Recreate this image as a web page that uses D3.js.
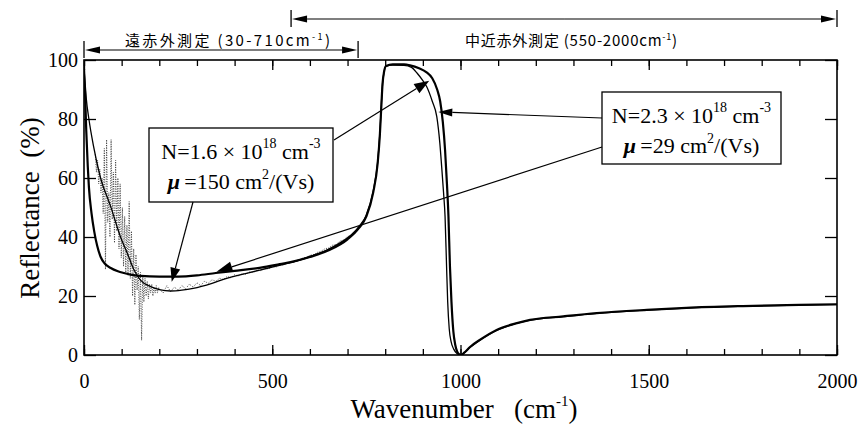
<!DOCTYPE html>
<html><head><meta charset="utf-8">
<script src="https://cdn.jsdelivr.net/npm/d3@7"></script>
<style>body{margin:0;background:#fff} svg{display:block}</style>
</head><body><svg id="c" width="859" height="424"></svg>
<script>
// ---------- data ----------
const xTickLabels = [0, 500, 1000, 1500, 2000];
const xMinorTicks = d3.range(0, 2001, 100);
const yTickLabels = [0, 20, 40, 60, 80, 100];

// fit curve (thick), 0-2000 cm-1  [wavenumber, reflectance %]
const fitThick = [[0,97],[3,88],[6,76],[10,64],[13,57],[20,48],[27,42],[35,37],[44,33.3],[55,31],[71,29.5],[90,28.4],[106,27.8],[130,27.1],[150,26.8],[200,26.6],[250,26.6],[300,27],[350,27.8],[400,28.5],[470,29.6],[520,30.8],[560,31.8],[600,33.2],[650,35.5],[700,39.2],[730,43],[750,47],[768,55],[780,65],[786,75],[790,85],[793,92],[797,96],[802,98],[820,98.5],[850,98.5],[866,98.2],[890,97.2],[910,95.8],[925,93.8],[938,90],[946,86],[953,79],[959,69.5],[964,58],[968,47],[972,30],[976,18],[981,8],[986,3.5],[991,1.2],[996,0.3],[1001,0],[1010,0.8],[1026,2.8],[1050,5],[1096,8.5],[1150,10.8],[1185,11.9],[1273,13.1],[1362,14.2],[1495,15.3],[1600,16],[1750,16.6],[1900,17],[2000,17.2]];

// fit curve (thin), far-IR
const fitThin = [[0,97],[3,92],[6,87],[13,80],[25,71],[44,60],[71,50.3],[97,40],[115,34.5],[133,28.8],[150,25.4],[177,23.2],[200,22.2],[230,21.7],[260,22],[290,22.6],[340,24.3],[379,26],[420,27.3],[467,28.8],[510,30.1],[556,31.6],[600,33.4],[645,35.6],[698,39.5],[720,41.5]];

// measured far-IR data (noisy, dotted)
const farData = [[30,68],[33,62],[36,66],[39,58],[42,63],[45,55],[48,60],[51,48],[54,70],[57,29],[60,73],[63,45],[66,55],[69,40],[72,73],[75,46],[78,62],[81,38],[84,66],[87,42],[90,60],[93,36],[96,58],[99,33],[102,50],[105,30],[108,47],[111,28],[114,44],[117,27],[120,52],[123,26],[126,42],[129,20],[132,36],[135,17],[138,34],[141,22],[144,30],[147,12],[150,28],[153,5],[156,27],[159,18],[162,26],[165,20],[168,25],[171,19],[174,24],[177,21],[180,24],[183,20],[186,23],[189,21],[192,23.5],[195,21],[198,23],[200,22.5],[210,21],[220,23.5],[230,21.5],[240,23],[250,22],[260,23.5],[270,22.5],[280,24],[290,23],[300,24.5],[310,23.5],[320,25],[330,24.3],[340,25.5],[350,25],[360,26],[370,25.6],[380,26.6],[390,26.2],[400,27.2],[410,26.8],[420,27.6],[430,27.4],[440,28.2],[450,28],[460,28.8],[470,28.6],[480,29.4],[490,29.2],[500,30],[510,29.8],[520,30.6],[530,30.5],[540,31.3],[550,31.2],[560,32],[570,32],[580,32.8],[590,33],[600,33.8],[610,34],[620,34.8],[630,35.2],[640,36],[650,36.3],[660,37.2],[670,37.5],[680,38.6],[690,39],[700,40.2],[710,40.5]];

// measured mid-IR data
const midData = [[550,31.4],[600,33.3],[650,35.8],[700,39.6],[730,43.5],[750,47.5],[768,55.5],[780,65.5],[786,75.5],[790,85.5],[793,92],[797,96],[802,97.8],[820,98.3],[850,98.2],[870,97.5],[885,95.5],[900,93],[910,91],[925,86],[937,80.8],[945,72],[950,63.8],[955,55],[959,46.9],[963,30],[966,18],[970,9],[975,4.5],[982,2],[990,0.6],[998,0.1],[1005,0.3],[1026,2.6],[1096,8.3],[1185,11.8],[1273,13],[1362,14.1],[1495,15.2],[1600,15.9],[1750,16.5],[1900,16.9],[2000,17.1]];

// measurement ranges (wavenumber)
const farRange = [0, 728];
const midRange = [550, 2000];
const farRangeLabel = ["遠赤外測定 (30-710cm", "-1", ")"];
const midRangeLabel = ["中近赤外測定 (550-2000cm", "-1", ")"];

// annotation boxes
const box1Lines = [["N=1.6 × 10", "18", " cm", "-3"], ["\u2009=150 cm", "2", "/(Vs)"]];
const box2Lines = [["N=2.3 × 10", "18", " cm", "-3"], ["\u2009=29 cm", "2", "/(Vs)"]];
// arrow tips (data coordinates)
const box1Tips = [[233, 24.8], [917, 93]];
const box2Tips = [[941, 82.4], [352, 28.2]];

// ---------- layout ----------
const svg = d3.select("#c");
const M = {l: 84, t: 60, r: 837, b: 355};
const x = d3.scaleLinear().domain([0, 2000]).range([M.l, M.r]);
const y = d3.scaleLinear().domain([0, 100]).range([M.b, M.t]);
const serif = "'Liberation Serif','Times New Roman',serif";
const jp = "'Noto Sans CJK JP','Noto Sans CJK SC',sans-serif";

svg.append("defs").append("clipPath").attr("id", "clip")
  .append("rect").attr("x", M.l).attr("y", M.t).attr("width", M.r - M.l).attr("height", M.b - M.t);

// axes with inward ticks
const gx = svg.append("g");
gx.append("g").attr("transform", `translate(0,${M.b})`)
  .call(d3.axisBottom(x).tickValues(xMinorTicks).tickSize(-6).tickFormat(""));
gx.append("g").attr("transform", `translate(0,${M.b})`)
  .call(d3.axisBottom(x).tickValues(xTickLabels).tickSize(-10).tickFormat(d3.format("d")));
gx.append("g").attr("transform", `translate(0,${M.t})`)
  .call(d3.axisTop(x).tickValues(xMinorTicks).tickSize(-6).tickFormat(""));
gx.append("g").attr("transform", `translate(0,${M.t})`)
  .call(d3.axisTop(x).tickValues(xTickLabels).tickSize(-10).tickFormat(""));
const gy = svg.append("g");
gy.append("g").attr("transform", `translate(${M.l},0)`)
  .call(d3.axisLeft(y).tickValues(yTickLabels).tickSize(-12).tickPadding(6).tickFormat(d3.format("d")));
gy.append("g").attr("transform", `translate(${M.r},0)`)
  .call(d3.axisRight(y).tickValues(yTickLabels).tickSize(-12).tickFormat(""));
svg.selectAll(".domain").remove();
svg.selectAll(".tick line").attr("stroke", "#000").attr("stroke-width", 1.3);
svg.selectAll(".tick text").attr("font-family", serif).attr("font-size", 20).attr("fill", "#000");
gx.selectAll(".tick text").attr("dy", "0.35em").attr("y", 26);

svg.append("rect").attr("x", M.l).attr("y", M.t).attr("width", M.r - M.l).attr("height", M.b - M.t)
  .attr("fill", "none").attr("stroke", "#000").attr("stroke-width", 1.6);

// axis titles
const xt = svg.append("text").attr("x", 464).attr("y", 418).attr("text-anchor", "middle")
  .attr("font-family", serif).attr("font-size", 27).attr("fill", "#000");
xt.append("tspan").text("Wavenumber\u00a0\u00a0\u00a0(cm");
xt.append("tspan").attr("dy", -12).attr("font-size", 15).text("-1");
xt.append("tspan").attr("dy", 12).text(")");

svg.append("text").attr("transform", "translate(39,208) rotate(-90)").attr("text-anchor", "middle")
  .attr("font-family", serif).attr("font-size", 27).attr("fill", "#000")
  .text("Reflectance\u00a0\u00a0(%)");

// curves
const line = d3.line().x(d => x(d[0])).y(d => y(d[1]));
const smooth = d3.line().x(d => x(d[0])).y(d => y(d[1])).curve(d3.curveMonotoneX);
const plot = svg.append("g").attr("clip-path", "url(#clip)");
plot.append("path").datum(farData).attr("d", line).attr("fill", "none")
  .attr("stroke", "#333").attr("stroke-width", 0.9).attr("stroke-dasharray", "1,1.4");
plot.append("path").datum(fitThin).attr("d", smooth).attr("fill", "none")
  .attr("stroke", "#000").attr("stroke-width", 1.3);
plot.append("path").datum(midData).attr("d", smooth).attr("fill", "none")
  .attr("stroke", "#000").attr("stroke-width", 1.3);
plot.append("path").datum(fitThick).attr("d", smooth).attr("fill", "none")
  .attr("stroke", "#000").attr("stroke-width", 2.2);

// arrows
function arrow(g, x1, y1, x2, y2, len, half) {
  const a = Math.atan2(y2 - y1, x2 - x1);
  const bx = x2 - len * Math.cos(a), by = y2 - len * Math.sin(a);
  g.append("line").attr("x1", x1).attr("y1", y1).attr("x2", bx).attr("y2", by)
    .attr("stroke", "#000").attr("stroke-width", 1.2);
  const px = -Math.sin(a) * half, py = Math.cos(a) * half;
  g.append("path").attr("d", `M${x2},${y2}L${bx + px},${by + py}L${bx - px},${by - py}Z`).attr("fill", "#000");
}

// range indicators at top
const ann = svg.append("g");
function rangeBar(r, yy, label, tx) {
  const x1 = x(r[0]), x2 = x(r[1]);
  ann.append("line").attr("x1", x1).attr("x2", x1).attr("y1", yy - 9).attr("y2", yy + 8).attr("stroke", "#000").attr("stroke-width", 1.3);
  ann.append("line").attr("x1", x2).attr("x2", x2).attr("y1", yy - 9).attr("y2", yy + 8).attr("stroke", "#000").attr("stroke-width", 1.3);
  const mid = (x1 + x2) / 2;
  arrow(ann, mid, yy, x1 + 1, yy, 15, 3.5);
  arrow(ann, mid, yy, x2 - 1, yy, 15, 3.5);
  const t = ann.append("text").attr("x", tx[0]).attr("y", 46).attr("font-family", jp)
    .attr("font-size", 15).attr("fill", "#000").attr("textLength", tx[1]).attr("lengthAdjust", "spacing");
  t.append("tspan").text(label[0]);
  t.append("tspan").attr("dy", -6).attr("font-size", 9).text(label[1]);
  t.append("tspan").attr("dy", 6).text(label[2]);
}
rangeBar(farRange, 50, farRangeLabel, [125, 205]);
rangeBar(midRange, 19, midRangeLabel, [465, 212]);

// annotation boxes
function box(bx, by, w, h, lines) {
  const g = svg.append("g");
  g.append("rect").attr("x", bx).attr("y", by).attr("width", w).attr("height", h)
    .attr("fill", "#fff").attr("stroke", "#000").attr("stroke-width", 1.3);
  const t1 = g.append("text").attr("x", bx + w / 2).attr("y", by + 31).attr("text-anchor", "middle")
    .attr("font-family", serif).attr("font-size", 22).attr("fill", "#000");
  t1.append("tspan").text(lines[0][0]);
  t1.append("tspan").attr("dy", -11).attr("font-size", 14).text(lines[0][1]);
  t1.append("tspan").attr("dy", 11).text(lines[0][2]);
  t1.append("tspan").attr("dy", -11).attr("font-size", 14).text(lines[0][3]);
  const t2 = g.append("text").attr("x", bx + w / 2).attr("y", by + 61).attr("text-anchor", "middle")
    .attr("font-family", serif).attr("font-size", 22).attr("fill", "#000");
  t2.append("tspan").attr("font-weight", "bold").attr("font-style", "italic").text("μ");
  t2.append("tspan").text(lines[1][0]);
  t2.append("tspan").attr("dy", -10).attr("font-size", 14).text(lines[1][1]);
  t2.append("tspan").attr("dy", 10).text(lines[1][2]);
}
box(149, 128, 184, 74, box1Lines);
box(602, 92, 179, 72, box2Lines);

const arr = svg.append("g");
arrow(arr, 193, 202, x(box1Tips[0][0]), y(box1Tips[0][1]), 14, 5);
arrow(arr, 334, 140, x(box1Tips[1][0]), y(box1Tips[1][1]), 15, 5.5);
arrow(arr, 602, 118, x(box2Tips[0][0]), y(box2Tips[0][1]), 14, 4);
arrow(arr, 602, 147, x(box2Tips[1][0]), y(box2Tips[1][1]), 16, 5.5);
</script></body></html>
